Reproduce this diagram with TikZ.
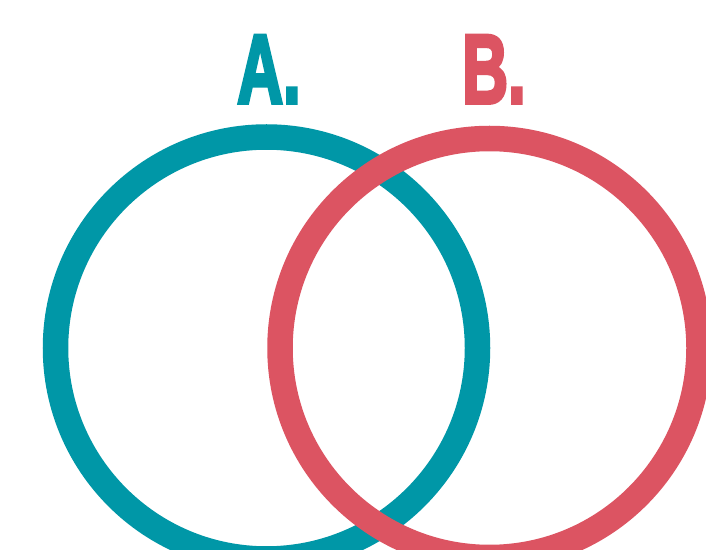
\documentclass[tikz,border=0pt]{standalone}
\usepackage{fontspec}
\setmainfont{Liberation Sans}
\newfontfamily\heavyfont[FakeBold=4]{Liberation Sans Bold}
\definecolor{tealc}{HTML}{0097A7}
\definecolor{redc}{HTML}{DC5462}
\tikzset{
  ring/.style={line width=25.5pt},
  letter/.style={anchor=base west, inner sep=0pt, xscale=0.65, font=\heavyfont\fontsize{98}{98}\selectfont}
}
\begin{document}
\begin{tikzpicture}[x=1pt,y=1pt]
\useasboundingbox (0,0) rectangle (706,549);
\clip (0,0) rectangle (706,549);
\fill[white] (0,0) rectangle (706,549);
\coordinate (ca) at (266.5,201);
\coordinate (cb) at (489.5,201);
\draw[ring, tealc] (ca) circle[radius=211];
\draw[ring, redc] (cb) circle[radius=209.5];
\node[letter, text=tealc] (la) at (237,446) {A.};
\node[letter, text=redc] (lb) at (462,446) {B.};
\end{tikzpicture}
\end{document}
